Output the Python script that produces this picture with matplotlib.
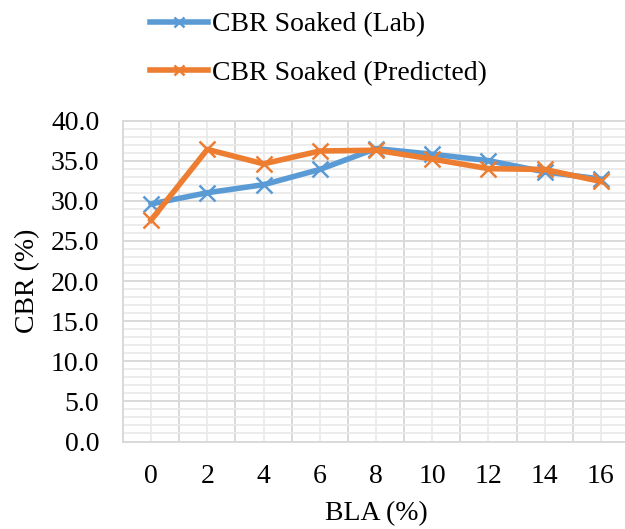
import numpy as np
import matplotlib.pyplot as plt

bla = ['0', '2', '4', '6', '8', '10', '12', '14', '16']
cbr_lab = [29.6, 31.0, 32.0, 33.9, 36.5, 35.8, 35.0, 33.6, 32.7]
cbr_pred = [27.6, 36.4, 34.6, 36.2, 36.3, 35.2, 34.0, 33.9, 32.4]

plt.rcParams['font.family'] = ['Liberation Serif', 'DejaVu Serif']
fs = 20

fig = plt.figure(figsize=(6.25, 5.29), dpi=100)
ax = fig.add_axes([0.1968, 0.1654, 0.8096, 0.6068])

x = np.arange(len(bla))
ax.plot(x, cbr_lab, color='#5B9BD5', lw=4, marker='x', ms=11, mew=1.8,
        label='CBR Soaked (Lab)', zorder=3)
ax.plot(x, cbr_pred, color='#ED7D31', lw=4, marker='x', ms=11, mew=1.8,
        label='CBR Soaked (Predicted)', zorder=4)

ax.set_xlim(-0.5, len(bla) - 0.5)
ax.set_ylim(0, 40)

# category boundaries as major grid, centres carry the labels
ax.set_xticks(np.arange(-0.5, len(bla)), [''] * (len(bla) + 1))
ax.set_xticks(x, bla, minor=True)
ax.set_yticks(np.arange(0, 41, 5), [f'{v:.1f}' for v in np.arange(0, 41, 5)])
ax.set_yticks(np.arange(0, 41, 1), minor=True)

ax.grid(which='major', color='#D9D9D9', lw=1.4)
ax.grid(which='minor', color='#EAEAEA', lw=1.3)
ax.set_axisbelow(True)
ax.tick_params(which='both', length=0, labelsize=fs)
ax.tick_params(axis='x', which='minor', pad=16)
ax.tick_params(axis='y', pad=17)
for s in ax.spines.values():
    s.set_color('#D9D9D9')
    s.set_linewidth(1.4)

ax.set_xlabel('BLA (%)', fontsize=fs, labelpad=9)
ax.set_ylabel('CBR (%)', fontsize=fs, labelpad=8)

fig.legend(loc='upper left', bbox_to_anchor=(150 / 625, 1 - 12 / 529),
           frameon=False, fontsize=fs, handlelength=2.1, handletextpad=0.15,
           labelspacing=0.82, borderpad=0, borderaxespad=0, markerscale=0.7)

fig.savefig('out.png', dpi=100)
